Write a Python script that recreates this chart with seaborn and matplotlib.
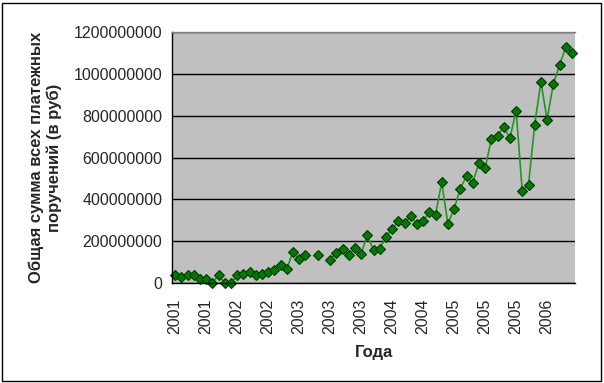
import numpy as np
import pandas as pd
import matplotlib.pyplot as plt
import seaborn as sns
from matplotlib.ticker import FixedLocator, MultipleLocator, FuncFormatter
from matplotlib.patches import Rectangle

# total sum of payment orders, rub (None = no data)
payments = [
    38e6, 30e6, 38e6, 38e6, 19e6, 19e6, 0, 38e6, 0, 0,
    37e6, 45e6, 51e6, 38e6, 45e6, 51e6, 62e6, 85e6, 67e6, 147e6,
    115e6, 132e6, None, 132e6, None, 110e6, 145e6, 164e6, 132e6, 167e6,
    139e6, 229e6, 156e6, 163e6, 221e6, 258e6, 296e6, 288e6, 319e6, 283e6,
    295e6, 338e6, 326e6, 481e6, 283e6, 355e6, 451e6, 512e6, 480e6, 572e6,
    548e6, 687e6, 703e6, 746e6, 692e6, 824e6, 438e6, 470e6, 757e6, 962e6,
    781e6, 951e6, 1041e6, 1127e6, 1101e6,
]
year_labels = ["2001", "2001", "2002", "2002", "2003", "2003", "2003",
               "2004", "2004", "2005", "2005", "2005", "2006"]
label_step = 5

df = pd.DataFrame({"idx": np.arange(len(payments)),
                   "value": pd.to_numeric(pd.Series(payments), errors="coerce")})
# break the line where values are missing
df["segment"] = df["value"].isna().cumsum()
df = df.dropna()

sns.set_style("white")
plt.rcParams["font.family"] = ["Liberation Sans", "DejaVu Sans"]

fig = plt.figure(figsize=(6.04, 3.83), dpi=100)
ax = fig.add_axes([172 / 604, 100 / 383, 403 / 604, 251 / 383])
ax.set_facecolor("#c0c0c0")

sns.lineplot(data=df, x="idx", y="value", units="segment", estimator=None,
             color="#1f991f", linewidth=1.2, marker="D", markersize=5.5,
             markerfacecolor="#007a00", markeredgecolor="#003a00",
             markeredgewidth=0.8, clip_on=False, ax=ax)

n = len(payments)
ax.set_xlim(-0.5, n - 0.5)
ax.set_ylim(0, 1200000000)
ax.yaxis.set_major_locator(MultipleLocator(200000000))
ax.yaxis.set_major_formatter(FuncFormatter(lambda v, p: f"{int(v)}"))
ax.grid(axis="y", color="black", linewidth=1)
ax.set_axisbelow(True)

ax.xaxis.set_major_locator(FixedLocator(np.arange(0, n, label_step)))
ax.set_xticklabels(year_labels, rotation=90)
ax.xaxis.set_minor_locator(FixedLocator(np.arange(-0.5, n, 1)))
ax.tick_params(axis="x", which="major", length=0, pad=11, labelsize=11.5)
ax.tick_params(axis="x", which="minor", length=4, width=1, color="black",
               direction="out")
ax.tick_params(axis="y", length=4, width=1, color="black", direction="out",
               labelsize=11.5, pad=3)

ax.spines["top"].set_color("#808080")
ax.spines["top"].set_linewidth(1)
ax.spines["right"].set_visible(False)
for side in ["left", "bottom"]:
    ax.spines[side].set_color("black")
    ax.spines[side].set_linewidth(1)

ax.set_xlabel("Года", fontsize=12, fontweight="bold", labelpad=8)
ax.set_ylabel("Общая сумма всех платежных\nпоручений (в руб)", fontsize=12,
              fontweight="bold", labelpad=8)

fig.patches.append(Rectangle((2 / 604, 2 / 383), 599 / 604, 378 / 383,
                             transform=fig.transFigure, fill=False,
                             edgecolor="black", linewidth=1))

fig.savefig("out.png", dpi=100)
